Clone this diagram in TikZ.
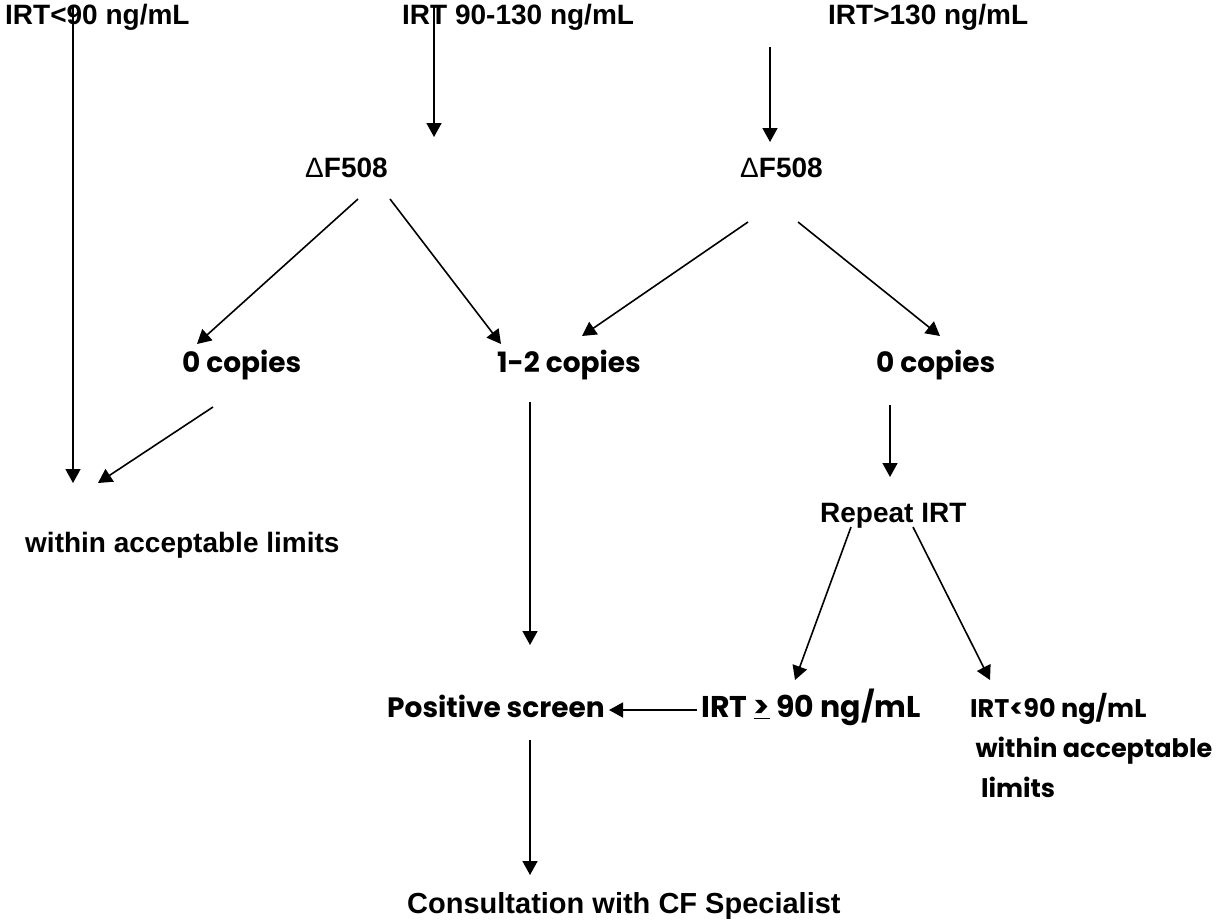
\documentclass[tikz,border=0pt]{standalone}
\usepackage{fontspec}
\setmainfont{Liberation Sans}
\newfontfamily\comicfont{Poppins}
\usetikzlibrary{arrows.meta}
\begin{document}
\begin{tikzpicture}[x=1pt,y=-1pt,
  ar/.style={-{Triangle[length=14pt,width=15pt]}, line width=1.6pt},
  atxt/.style={font=\bfseries\fontsize{28}{34}\selectfont, inner sep=0pt, anchor=base west},
  ctxt/.style={font=\comicfont\bfseries\fontsize{28}{40}\selectfont, inner sep=0pt, anchor=base west, align=left}]
\useasboundingbox (0,0) rectangle (1218,919);
% texts
\node[atxt] (t1) at (5,24) {IRT<90 ng/mL};
\node[atxt] (t2) at (402,24) {IRT 90-130 ng/mL};
\node[atxt] (t3) at (828,24) {IRT>130 ng/mL};
\node[atxt] (d1) at (305,177) {{\mdseries Δ}F508};
\node[atxt] (d2) at (740,177) {{\mdseries Δ}F508};
\node[ctxt] (c0a) at (182,372) {0 copies};
\node[ctxt] (c12) at (497,372) {1-2 copies};
\node[ctxt] (c0b) at (876,372) {0 copies};
\node[atxt] (wl) at (25,552) {within acceptable limits};
\node[atxt] (rep) at (820,522) {Repeat IRT};
\node[ctxt] (pos) at (387,717) {Positive screen};
\node[ctxt, font=\comicfont\bfseries\fontsize{30}{40}\selectfont] (ge) at (701,717) {IRT \underline{>} 90 ng/mL};
\node[ctxt, font=\comicfont\bfseries\fontsize{25.5}{40}\selectfont] (lt) at (970,797) {IRT<90 ng/mL\\ \ within acceptable\\ \ \ limits};
\node[atxt, font=\bfseries\fontsize{29}{34}\selectfont] (cons) at (407,913) {Consultation with CF Specialist};
% connector end points
\coordinate (a1s) at (73,5);   \coordinate (a1e) at (73,483);
\coordinate (a2s) at (434,5);  \coordinate (a2e) at (434,137);
\coordinate (a3s) at (770,47); \coordinate (a3e) at (770,142);
\coordinate (b1s) at (358,199); \coordinate (b1e) at (197,344);
\coordinate (b2s) at (390,199); \coordinate (b2e) at (501,344);
\coordinate (b3s) at (748,222); \coordinate (b3e) at (582,336);
\coordinate (b4s) at (798,222); \coordinate (b4e) at (940,336);
\coordinate (e1s) at (213,407); \coordinate (e1e) at (98,483);
\coordinate (e2s) at (530,402); \coordinate (e2e) at (530,645);
\coordinate (e3s) at (890,405); \coordinate (e3e) at (890,477);
\coordinate (f1s) at (851,527); \coordinate (f1e) at (795,680);
\coordinate (f2s) at (913,527); \coordinate (f2e) at (990,680);
\coordinate (gs) at (697,710);  \coordinate (ge2) at (609,710);
\coordinate (hs) at (530,740);  \coordinate (he) at (530,875);
% connectors
\draw[ar] (a1s) -- (a1e);
\draw[ar] (a2s) -- (a2e);
\draw[ar] (a3s) -- (a3e);
\draw[ar] (b1s) -- (b1e);
\draw[ar] (b2s) -- (b2e);
\draw[ar] (b3s) -- (b3e);
\draw[ar] (b4s) -- (b4e);
\draw[ar] (e1s) -- (e1e);
\draw[ar] (e2s) -- (e2e);
\draw[ar] (e3s) -- (e3e);
\draw[ar] (f1s) -- (f1e);
\draw[ar] (f2s) -- (f2e);
\draw[ar] (gs) -- (ge2);
\draw[ar] (hs) -- (he);
\end{tikzpicture}
\end{document}
